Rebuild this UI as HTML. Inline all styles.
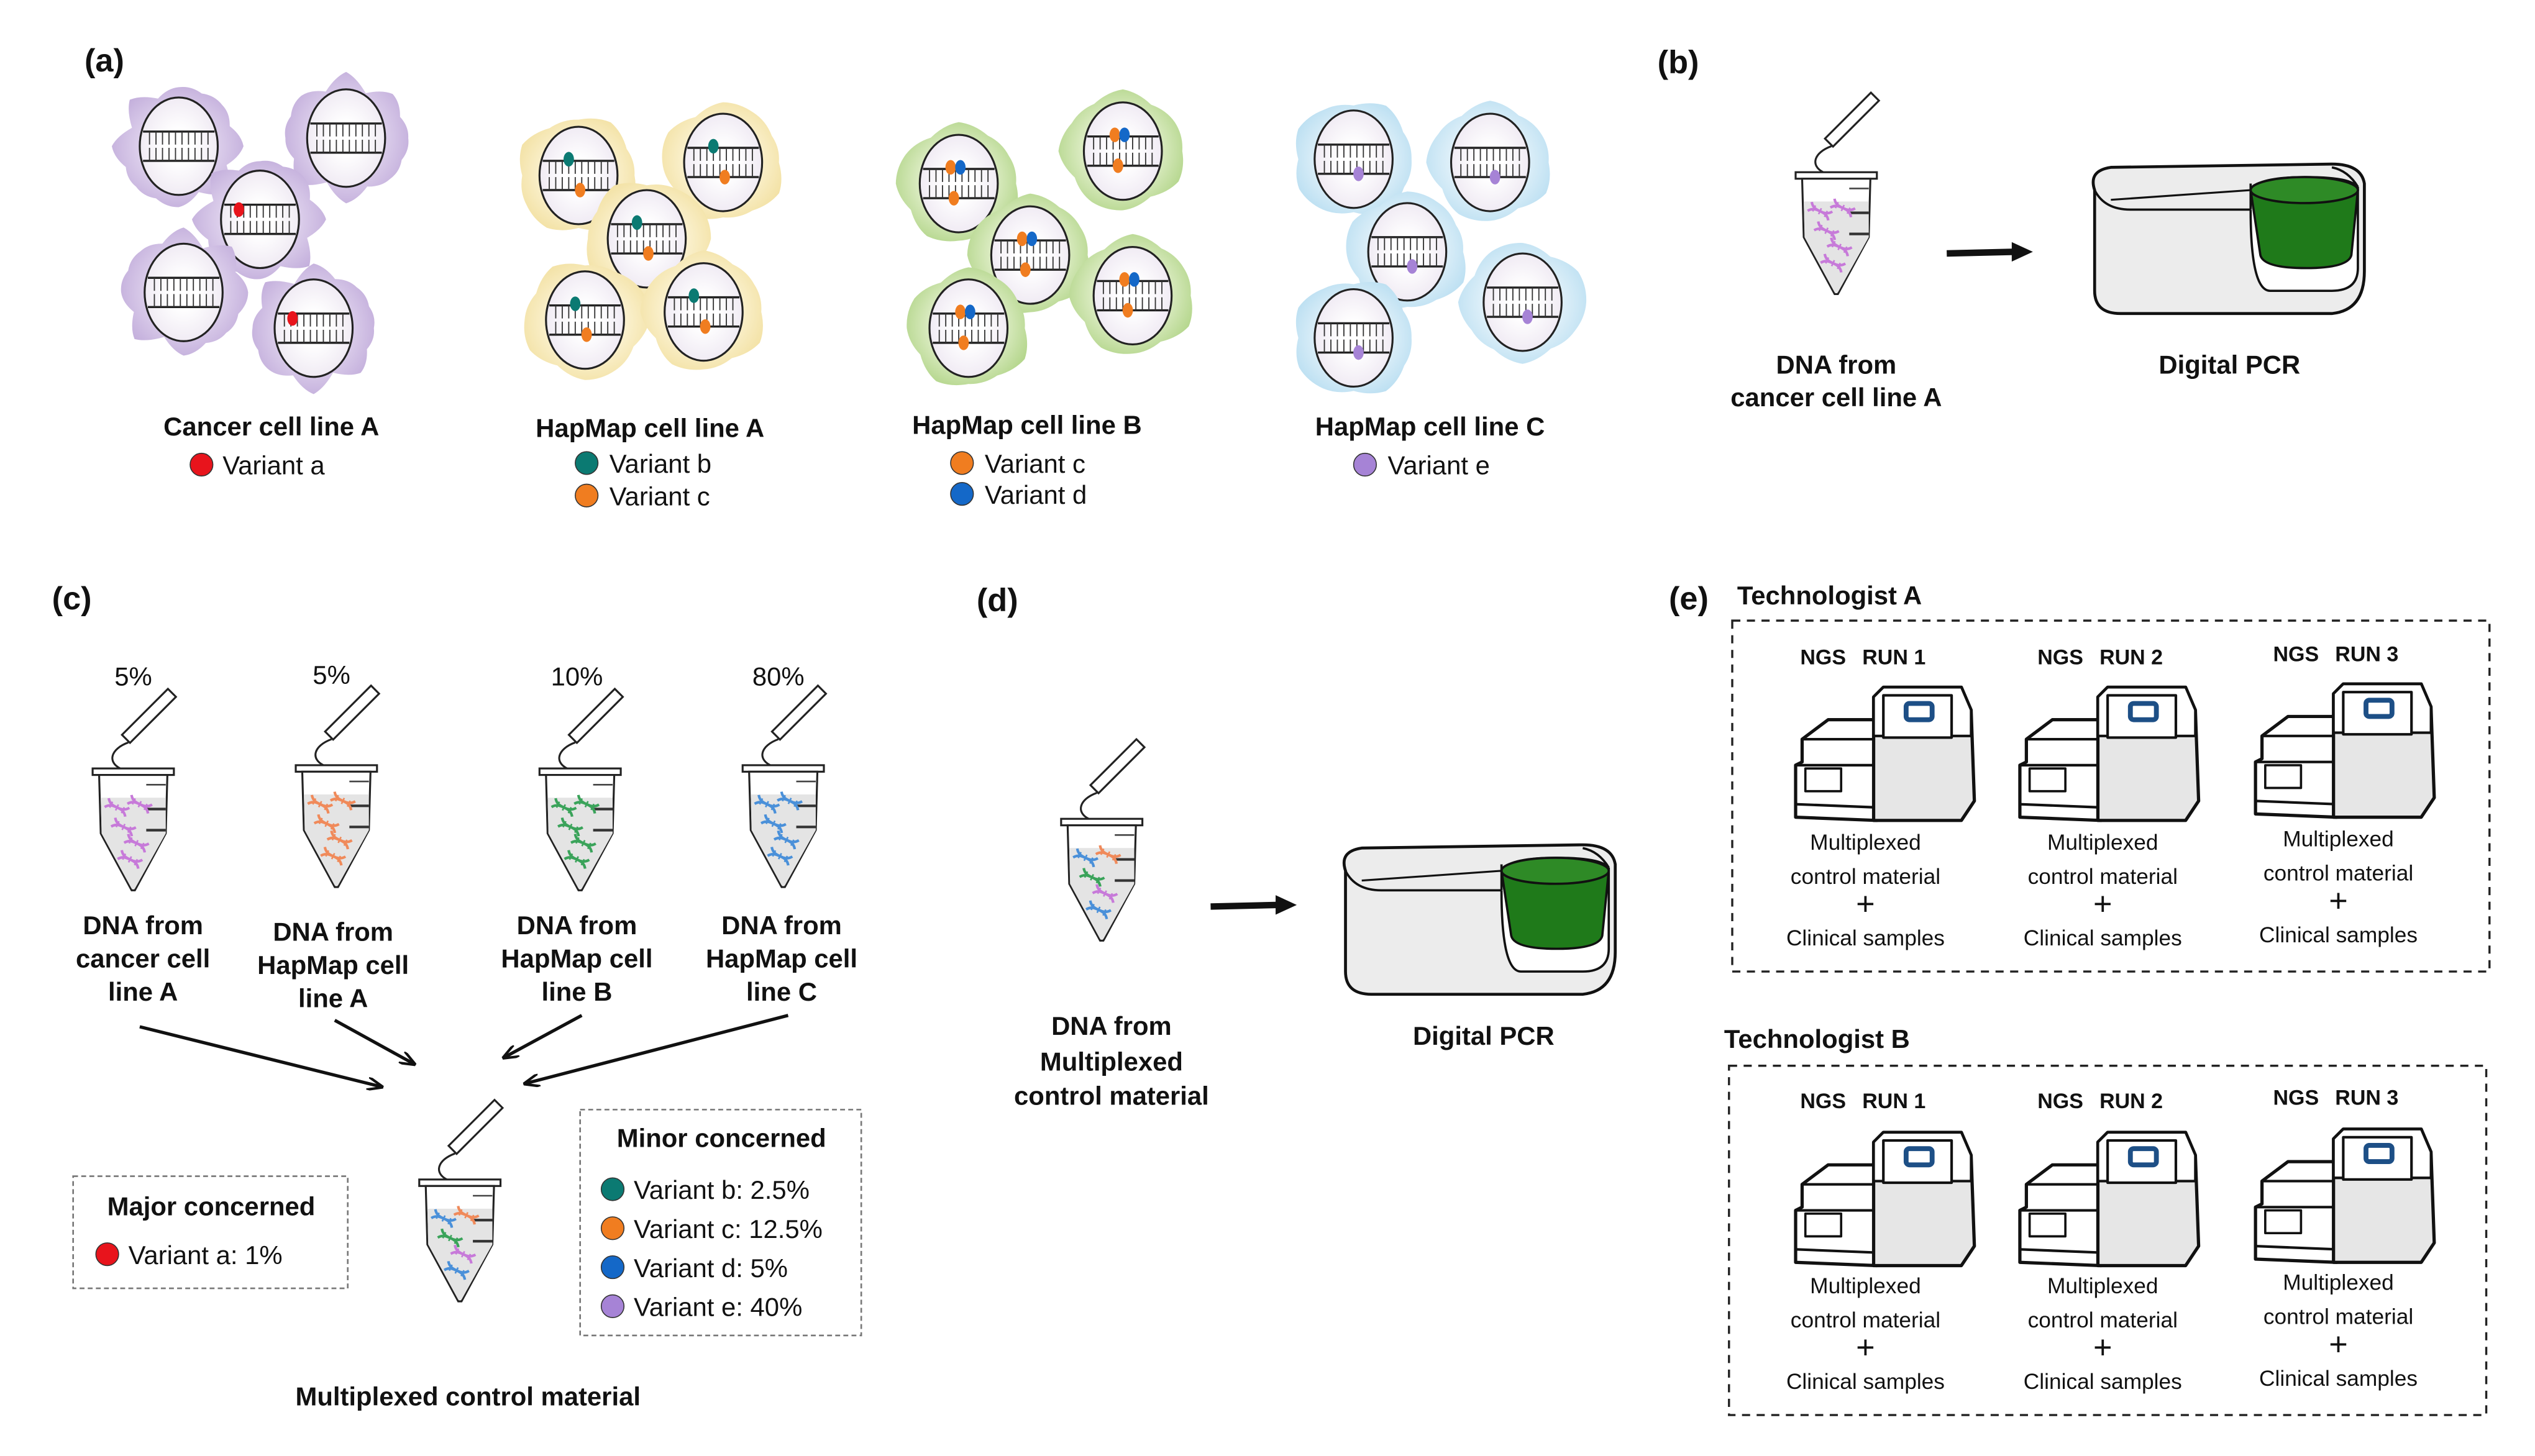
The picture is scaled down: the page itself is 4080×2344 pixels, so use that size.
<!DOCTYPE html>
<html><head><meta charset="utf-8"><style>
html,body{margin:0;padding:0;background:#fff;}
svg{display:block;}
text{font-family:"Liberation Sans",Arial,sans-serif;fill:#111;}
.b{font-weight:bold;}
</style></head><body>
<svg id="s" width="4080" height="2344" viewBox="0 0 1560 896.2" preserveAspectRatio="none" xmlns="http://www.w3.org/2000/svg">
<defs>
<radialGradient id="gp" cx="50%" cy="50%" r="55%"><stop offset="40%" stop-color="#e4d9f0"/><stop offset="100%" stop-color="#c2addb"/></radialGradient>
<radialGradient id="gy" cx="50%" cy="50%" r="55%"><stop offset="40%" stop-color="#fdf6dc"/><stop offset="100%" stop-color="#f3e2a6"/></radialGradient>
<radialGradient id="gg" cx="50%" cy="50%" r="55%"><stop offset="35%" stop-color="#eef6dc"/><stop offset="100%" stop-color="#b4d68c"/></radialGradient>
<radialGradient id="gb" cx="50%" cy="50%" r="55%"><stop offset="35%" stop-color="#eef7fc"/><stop offset="100%" stop-color="#bde0f2"/></radialGradient>
<radialGradient id="gn" cx="50%" cy="50%" r="55%"><stop offset="30%" stop-color="#fff"/><stop offset="100%" stop-color="#eee8f2"/></radialGradient>
<marker id="ar" markerWidth="10" markerHeight="8" refX="9" refY="4" orient="auto" markerUnits="userSpaceOnUse"><path d="M0,0 L10,4 L0,8" fill="none" stroke="#111" stroke-width="1.6"/></marker>
</defs>
<g id="g"></g>
</svg>
<script>
var h='';
function T(x,y,s,size,cls,anchor){h+='<text x="'+x+'" y="'+y+'" font-size="'+size+'" '+(cls?'class="'+cls+'" ':'')+'text-anchor="'+(anchor||'middle')+'">'+s+'</text>';}
var C={r:'#e8141c',t:'#0b7a72',o:'#f07d20',b:'#1468c8',p:'#a683d6'};
function blob(cx,cy,fill,jag){
  var pts=[],n=jag?16:12;
  for(var i=0;i<n;i++){var a=i/n*Math.PI*2;var r=(jag?(i%2?34:40):37)+Math.sin(i*2.3+cx)*3;pts.push([cx+Math.cos(a)*r,cy+Math.sin(a)*r*0.95]);}
  var d='M'+pts[0][0]+','+pts[0][1];
  for(var i=0;i<n;i++){var p=pts[(i+1)%n];var q=pts[i];d+=' Q'+(q[0]+(p[0]-q[0])*0.5+(Math.cos((i+0.5)/n*6.283)*3))+','+(q[1]+(p[1]-q[1])*0.5+(Math.sin((i+0.5)/n*6.283)*3))+' '+p[0]+','+p[1];}
  h+='<path d="'+d+'Z" fill="url(#'+fill+')"/>';
}
function cell(cx,cy,fill,dots,jag){
  blob(cx,cy,fill,jag);
  h+='<ellipse cx="'+cx+'" cy="'+cy+'" rx="24" ry="30" fill="url(#gn)" stroke="#222" stroke-width="1.2"/>';
  var y1=cy-9,y2=cy+9;
  h+='<line x1="'+(cx-22)+'" y1="'+y1+'" x2="'+(cx+22)+'" y2="'+y1+'" stroke="#222" stroke-width="1.3"/>';
  h+='<line x1="'+(cx-22)+'" y1="'+y2+'" x2="'+(cx+22)+'" y2="'+y2+'" stroke="#222" stroke-width="1.3"/>';
  for(var x=cx-18;x<=cx+18;x+=4){h+='<line x1="'+x+'" y1="'+y1+'" x2="'+x+'" y2="'+(y1+8)+'" stroke="#333" stroke-width="0.7"/><line x1="'+x+'" y1="'+(y2-8)+'" x2="'+x+'" y2="'+y2+'" stroke="#333" stroke-width="0.7"/>';}
  (dots||[]).forEach(function(d){h+='<ellipse cx="'+(cx+d[0])+'" cy="'+(cy+d[1])+'" rx="3.2" ry="4.5" fill="'+C[d[2]]+'"/>';});
}
function tube(x,y,cols){
  h+='<g transform="translate('+x+','+y+')">';
  h+='<rect x="-3" y="-4" width="40" height="7" fill="#fff" stroke="#222" stroke-width="1.2" transform="translate(-2,18) rotate(-45)"/>';
  h+='<path d="M-3,22 C-14,26 -16,34 -8,38" fill="none" stroke="#222" stroke-width="1.2"/>';
  h+='<rect x="-25" y="38" width="50" height="4" fill="#fff" stroke="#222" stroke-width="1.2"/>';
  h+='<path d="M-21,42 L21,42 L20,78 L1,113 L-1,113 L-20,78 Z" fill="#fff" stroke="#222" stroke-width="1.2"/>';
  h+='<path d="M-20,56 L20,56 L20,78 L1,112 L-1,112 L-19.5,78 Z" fill="#e4e4e4"/>';
  h+='<line x1="8" y1="48" x2="20" y2="48" stroke="#444" stroke-width="1"/><line x1="8" y1="63" x2="20" y2="63" stroke="#333" stroke-width="1.6"/><line x1="8" y1="76" x2="20" y2="76" stroke="#333" stroke-width="1.6"/>';
  var pos=[[-10,62],[4,60],[-6,74],[2,84],[-2,94]];
  pos.forEach(function(p,i){var c=cols[i%cols.length];
    h+='<g transform="translate('+p[0]+','+p[1]+') rotate(25)"><path d="M-7,-3 C-3,3 3,-3 7,3 M-7,3 C-3,-3 3,3 7,-3" fill="none" stroke="'+c+'" stroke-width="1.6"/><line x1="-4" y1="-2" x2="-4" y2="2" stroke="'+c+'"/><line x1="0" y1="-2" x2="0" y2="2" stroke="'+c+'"/><line x1="4" y1="-2" x2="4" y2="2" stroke="'+c+'"/></g>';});
  h+='</g>';
}
function pcr(x,y,s){
  h+='<g transform="translate('+x+','+y+') scale('+s+')">';
  h+='<path d="M4,22 Q0,10 14,8 L150,6 Q168,6 170,18 L170,72 Q170,96 150,98 L20,98 Q4,98 4,84 Z" fill="#ececec" stroke="#111" stroke-width="1.8"/>';
  h+='<path d="M4,22 Q10,34 26,34 L100,34 L100,18" fill="none" stroke="#111" stroke-width="1.4"/>';
  h+='<path d="M14,28 L100,22" fill="none" stroke="#111" stroke-width="1.2"/>';
  h+='<path d="M100,34 Q100,84 112,84 L150,84 Q166,84 166,70 L166,20" fill="#fff" stroke="#111" stroke-width="1.4"/>';
  h+='<path d="M100,22 Q104,14 134,14 Q166,14 166,22 L162,62 Q160,70 134,70 Q108,70 106,62 Z" fill="#1f7a1a" stroke="#111" stroke-width="1.4"/>';
  h+='<ellipse cx="133" cy="22" rx="33" ry="8" fill="#2e8a26" stroke="#111" stroke-width="1.4"/>';
  h+='<path d="M150,8 Q160,10 166,20" fill="none" stroke="#111" stroke-width="1.4"/>';
  h+='</g>';
}
function ngs(x,y){
  h+='<g transform="translate('+x+','+y+')" stroke="#111" stroke-linejoin="round">';
  h+='<path d="M2,80 L2,48 L6,46 L6,32 L22,20 L52,20 L52,82 Z" fill="#fff" stroke-width="2"/>';
  h+='<line x1="6" y1="32" x2="52" y2="32" stroke-width="1.6"/><line x1="2" y1="48" x2="52" y2="48" stroke-width="1.6"/><line x1="2" y1="72" x2="52" y2="74" stroke-width="1.6"/>';
  h+='<rect x="8" y="50" width="22" height="14" fill="#fff" stroke-width="1.4"/>';
  h+='<path d="M50,82 L50,6 L56,0 L104,0 L110,14 L112,70 L104,82 Z" fill="#e6e6e6" stroke-width="2"/>';
  h+='<path d="M50,30 L50,6 L56,0 L104,0 L110,14 L110,30 Z" fill="#fff" stroke-width="1.6"/>';
  h+='<rect x="56" y="5" width="42" height="26" fill="#fff" stroke-width="1.6"/>';
  h+='<rect x="70" y="10" width="16" height="10" rx="2" fill="#fff" stroke="#1d4f86" stroke-width="3"/>';
  h+='</g>';
}
function circ(x,y,c,r){h+='<circle cx="'+x+'" cy="'+y+'" r="'+(r||7)+'" fill="'+c+'" stroke="#333" stroke-width="0.6"/>';}

T(52,44,'(a)',20,'b','start');
[[110,90],[213,85],[160,135,[[-13,-6,'r']]],[113,180],[193,202,[[-13,-6,'r']]]].forEach(function(c){cell(c[0],c[1],'gp',c[2],true);});
var tb=[[-6,-10,'t'],[1,9,'o']];
[[356,108],[445,100],[398,147],[360,197],[433,192]].forEach(function(c){cell(c[0],c[1],'gy',tb);});
var ob=[[-5,-10,'o'],[1,-10,'b'],[-3,9,'o']];
[[590,113],[691,93],[634,157],[697,182],[596,202]].forEach(function(c){cell(c[0],c[1],'gg',ob);});
var pb=[[3,9,'p']];
[[833,98],[917,100],[866,155],[937,186],[833,208]].forEach(function(c){cell(c[0],c[1],'gb',pb);});
T(167,268,'Cancer cell line A',16,'b');circ(124,286,C.r);T(137,292,'Variant a',16,'', 'start');
T(400,269,'HapMap cell line A',16,'b');circ(361,285,C.t);T(375,291,'Variant b',16,'','start');circ(361,305,C.o);T(375,311,'Variant c',16,'','start');
T(632,267,'HapMap cell line B',16,'b');circ(592,285,C.o);T(606,291,'Variant c',16,'','start');circ(592,304,C.b);T(606,310,'Variant d',16,'','start');
T(880,268,'HapMap cell line C',16,'b');circ(840,286,C.p);T(854,292,'Variant e',16,'','start');
T(1020,45,'(b)',20,'b','start');
tube(1130,68,['#c77ad9']);
h+='<line x1="1198" y1="156" x2="1240" y2="155" stroke="#111" stroke-width="4"/><path d="M1238,149 L1251,155 L1238,161 Z" fill="#111"/>';
pcr(1285,95,1.0);
T(1130,230,'DNA from',16,'b');T(1130,250,'cancer cell line A',16,'b');
T(1372,230,'Digital PCR',16,'b');
T(32,375,'(c)',20,'b','start');
T(82,422,'5%',16);T(204,421,'5%',16);T(355,422,'10%',16);T(479,422,'80%',16);
tube(82,435,['#c77ad9']);tube(207,433,['#f08a5a']);tube(357,435,['#3aa35a']);tube(482,433,['#4a90d9']);
var L=[[88,575,['DNA from','cancer cell','line A']],[205,579,['DNA from','HapMap cell','line A']],[355,575,['DNA from','HapMap cell','line B']],[481,575,['DNA from','HapMap cell','line C']]];
L.forEach(function(l){l[2].forEach(function(s,i){T(l[0],l[1]+i*20.5,s,16,'b');});});
function arr(x1,y1,x2,y2){h+='<line x1="'+x1+'" y1="'+y1+'" x2="'+x2+'" y2="'+y2+'" stroke="#111" stroke-width="2" marker-end="url(#ar)"/>';}
arr(86,632,235,669);arr(206,628,255,655);arr(358,625,310,651);arr(485,625,323,667);
tube(283,688,['#4a90d9','#f08a5a','#3aa35a','#c77ad9']);
T(288,865,'Multiplexed control material',16,'b');
h+='<rect x="45" y="724" width="169" height="69" fill="none" stroke="#777" stroke-width="1" stroke-dasharray="3,2"/>';
T(130,748,'Major concerned',16,'b');circ(66,772,C.r);T(79,778,'Variant a: 1%',16,'','start');
h+='<rect x="357" y="683" width="173" height="139" fill="none" stroke="#777" stroke-width="1" stroke-dasharray="3,2"/>';
T(444,706,'Minor concerned',16,'b');
[['t','Variant b: 2.5%'],['o','Variant c: 12.5%'],['b','Variant d: 5%'],['p','Variant e: 40%']].forEach(function(v,i){circ(377,732+i*24,C[v[0]]);T(390,738+i*24,v[1],16,'','start');});
T(601,376,'(d)',20,'b','start');
tube(678,466,['#4a90d9','#f08a5a','#3aa35a','#c77ad9']);
h+='<line x1="745" y1="558" x2="787" y2="557" stroke="#111" stroke-width="4"/><path d="M785,551 L798,557 L785,563 Z" fill="#111"/>';
pcr(824,514,1.0);
T(684,637,'DNA from',16,'b');T(684,659,'Multiplexed',16,'b');T(684,680,'control material',16,'b');
T(913,643,'Digital PCR',16,'b');
T(1027,375,'(e)',20,'b','start');
T(1069,372,'Technologist A',16,'b','start');
T(1061,645,'Technologist B',16,'b','start');
h+='<rect x="1066" y="382" width="466" height="216" fill="none" stroke="#222" stroke-width="1.3" stroke-dasharray="5,4"/>';
h+='<rect x="1064" y="656" width="466" height="215" fill="none" stroke="#222" stroke-width="1.3" stroke-dasharray="5,4"/>';
[[0,404,423,518],[274,677,697,791]].forEach(function(r){
  [[1150,1103,'1'],[1296,1241,'2'],[1441,1386,'3']].forEach(function(c,i){
    var dy=(i==2?-2:0);
    T(c[0]-14,r[1]+5+dy,'NGS',13,'b','end');T(c[0]-4,r[1]+5+dy,'RUN '+c[2],13,'b','start');
    ngs(c[1],r[2]+dy);
    T(c[0]-2,r[3]+5+dy,'Multiplexed',13.5);T(c[0]-2,r[3]+26+dy,'control material',13.5);T(c[0]-2,r[3]+45+dy,'+',20);T(c[0]-2,r[3]+64+dy,'Clinical samples',13.5);
  });
});
document.getElementById('g').innerHTML=h;
</script>
</body></html>
